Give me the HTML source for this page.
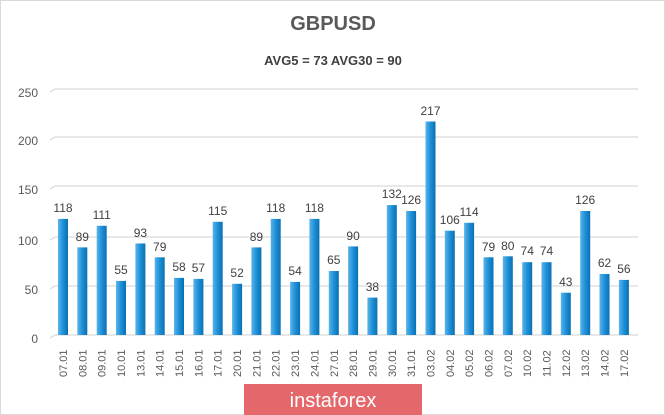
<!DOCTYPE html>
<html><head><meta charset="utf-8"><style>
body{margin:0;background:#fff}
svg{display:block;font-family:"Liberation Sans",sans-serif}
</style></head><body>
<svg width="665" height="415" viewBox="0 0 665 415">
<defs><linearGradient id="g" x1="0" x2="1"><stop offset="0" stop-color="#5ab4ea"/><stop offset="0.5" stop-color="#1e90d8"/><stop offset="1" stop-color="#0a6fb0"/></linearGradient></defs>
<rect x="0.5" y="0.5" width="664" height="414" fill="#fff" stroke="#d9d9d9"/>
<text x="333" y="30" text-anchor="middle" font-size="20" font-weight="bold" fill="#595959">GBPUSD</text>
<text x="333" y="65" text-anchor="middle" font-size="13" font-weight="bold" fill="#404040">AVG5 = 73 AVG30 = 90</text>
<g stroke="#d9d9d9" stroke-width="1.2" fill="none">
<path d="M50 92 L55 89 H638"/><path d="M50 140 L55 137 H638"/><path d="M50 189 L55 186 H638"/><path d="M50 240 L55 237 H638"/><path d="M50 289 L55 286 H638"/><path d="M50 338 L55 335 H638"/>
</g>
<g font-size="12" fill="#595959" text-anchor="end">
<text x="38" y="97">250</text><text x="38" y="145">200</text><text x="38" y="194">150</text><text x="38" y="245">100</text><text x="38" y="294">50</text><text x="38" y="343">0</text>
</g>
<g fill="url(#g)">
<rect x="58" y="218.9" width="10" height="116.1"/><rect x="77.3" y="247.4" width="10" height="87.6"/><rect x="96.7" y="225.8" width="10" height="109.2"/><rect x="116" y="280.9" width="10" height="54.1"/><rect x="135.4" y="243.5" width="10" height="91.5"/><rect x="154.7" y="257.3" width="10" height="77.7"/><rect x="174" y="277.9" width="10" height="57.1"/><rect x="193.4" y="278.9" width="10" height="56.1"/><rect x="212.7" y="221.8" width="10" height="113.2"/><rect x="232.1" y="283.8" width="10" height="51.2"/><rect x="251.4" y="247.4" width="10" height="87.6"/><rect x="270.7" y="218.9" width="10" height="116.1"/><rect x="290.1" y="281.9" width="10" height="53.1"/><rect x="309.4" y="218.9" width="10" height="116.1"/><rect x="328.8" y="271" width="10" height="64"/><rect x="348.1" y="246.4" width="10" height="88.6"/><rect x="367.4" y="297.6" width="10" height="37.4"/><rect x="386.8" y="205.1" width="10" height="129.9"/><rect x="406.1" y="211" width="10" height="124"/><rect x="425.5" y="121.5" width="10" height="213.5"/><rect x="444.8" y="230.7" width="10" height="104.3"/><rect x="464.1" y="222.8" width="10" height="112.2"/><rect x="483.5" y="257.3" width="10" height="77.7"/><rect x="502.8" y="256.3" width="10" height="78.7"/><rect x="522.2" y="262.2" width="10" height="72.8"/><rect x="541.5" y="262.2" width="10" height="72.8"/><rect x="560.8" y="292.7" width="10" height="42.3"/><rect x="580.2" y="211" width="10" height="124"/><rect x="599.5" y="274" width="10" height="61"/><rect x="618.9" y="279.9" width="10" height="55.1"/>
</g>
<g font-size="12" fill="#404040" text-anchor="middle">
<text x="63" y="212">118</text><text x="82.3" y="241">89</text><text x="101.7" y="219">111</text><text x="121" y="274">55</text><text x="140.4" y="237">93</text><text x="159.7" y="251">79</text><text x="179" y="271">58</text><text x="198.4" y="272">57</text><text x="217.7" y="215">115</text><text x="237.1" y="277">52</text><text x="256.4" y="241">89</text><text x="275.7" y="212">118</text><text x="295.1" y="275">54</text><text x="314.4" y="212">118</text><text x="333.8" y="264">65</text><text x="353.1" y="240">90</text><text x="372.4" y="291">38</text><text x="391.8" y="198">132</text><text x="411.1" y="204">126</text><text x="430.5" y="115">217</text><text x="449.8" y="224">106</text><text x="469.1" y="216">114</text><text x="488.5" y="251">79</text><text x="507.8" y="250">80</text><text x="527.2" y="255">74</text><text x="546.5" y="255">74</text><text x="565.8" y="286">43</text><text x="585.2" y="204">126</text><text x="604.5" y="267">62</text><text x="623.9" y="273">56</text>
</g>
<g font-size="11" fill="#595959" text-anchor="start">
<text transform="translate(67,377) rotate(-90)">07.01</text><text transform="translate(86.3,377) rotate(-90)">08.01</text><text transform="translate(105.7,377) rotate(-90)">09.01</text><text transform="translate(125,377) rotate(-90)">10.01</text><text transform="translate(144.4,377) rotate(-90)">13.01</text><text transform="translate(163.7,377) rotate(-90)">14.01</text><text transform="translate(183,377) rotate(-90)">15.01</text><text transform="translate(202.4,377) rotate(-90)">16.01</text><text transform="translate(221.7,377) rotate(-90)">17.01</text><text transform="translate(241.1,377) rotate(-90)">20.01</text><text transform="translate(260.4,377) rotate(-90)">21.01</text><text transform="translate(279.7,377) rotate(-90)">22.01</text><text transform="translate(299.1,377) rotate(-90)">23.01</text><text transform="translate(318.4,377) rotate(-90)">24.01</text><text transform="translate(337.8,377) rotate(-90)">27.01</text><text transform="translate(357.1,377) rotate(-90)">28.01</text><text transform="translate(376.4,377) rotate(-90)">29.01</text><text transform="translate(395.8,377) rotate(-90)">30.01</text><text transform="translate(415.1,377) rotate(-90)">31.01</text><text transform="translate(434.5,377) rotate(-90)">03.02</text><text transform="translate(453.8,377) rotate(-90)">04.02</text><text transform="translate(473.1,377) rotate(-90)">05.02</text><text transform="translate(492.5,377) rotate(-90)">06.02</text><text transform="translate(511.8,377) rotate(-90)">07.02</text><text transform="translate(531.2,377) rotate(-90)">10.02</text><text transform="translate(550.5,377) rotate(-90)">11.02</text><text transform="translate(569.8,377) rotate(-90)">12.02</text><text transform="translate(589.2,377) rotate(-90)">13.02</text><text transform="translate(608.5,377) rotate(-90)">14.02</text><text transform="translate(627.9,377) rotate(-90)">17.02</text>
</g>
<rect x="244" y="384" width="178" height="31" fill="#e4686b"/>
<text x="333" y="407" text-anchor="middle" font-size="20" fill="#fff">instaforex</text>
</svg>
</body></html>
